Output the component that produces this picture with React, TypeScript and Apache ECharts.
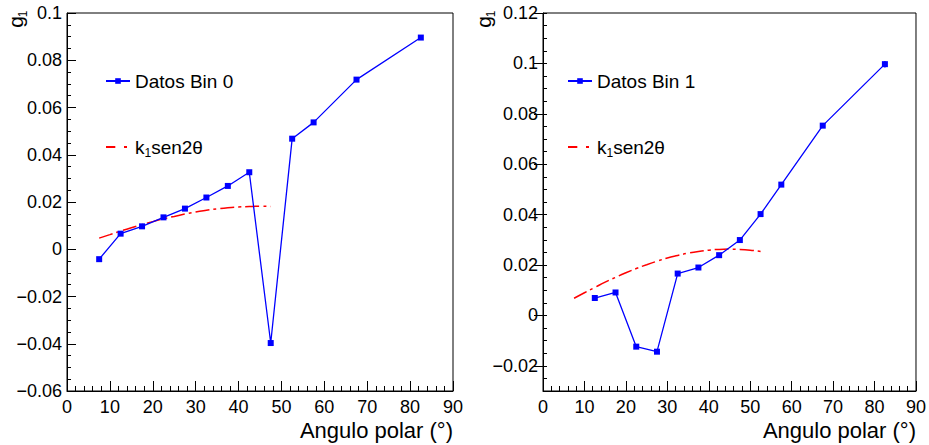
import React, { useEffect, useRef } from "react";
import * as echarts from "echarts";

const angles0 = [7.5, 12.5, 17.5, 22.5, 27.5, 32.5, 37.5, 42.5, 47.5, 52.5, 57.5, 67.5, 82.5];
const g1Bin0 = [-0.0042, 0.0066, 0.0097, 0.0135, 0.0172, 0.0219, 0.0268, 0.0326, -0.0397, 0.0468, 0.0537, 0.0718, 0.0896];

const angles1 = [12.5, 17.5, 22.5, 27.5, 32.5, 37.5, 42.5, 47.5, 52.5, 57.5, 67.5, 82.5];
const g1Bin1 = [0.0069, 0.0091, -0.0124, -0.0144, 0.0166, 0.019, 0.0239, 0.0299, 0.0402, 0.0519, 0.0753, 0.0997];
const err1 = [0.0004, 0.0004, 0.0004, 0.0004, 0.0004, 0.0004, 0.0004, 0.0005, 0.0005, 0.0006, 0.0008, 0.0013];

const fitAngles0 = [7.5, 10, 12.5, 15, 17.5, 20, 22.5, 25, 27.5, 30, 32.5, 35, 37.5, 40, 42.5, 45, 47.5];
const fitVals0 = [0.0047, 0.0062, 0.0077, 0.0091, 0.0104, 0.0117, 0.0129, 0.0139, 0.0149, 0.0158, 0.0165, 0.0171, 0.0176, 0.0179, 0.0181, 0.0182, 0.0181];

const fitAngles1 = [7.5, 10, 12.5, 15, 17.5, 20, 22.5, 25, 27.5, 30, 32.5, 35, 37.5, 40, 42.5, 45, 47.5, 50, 52.5];
const fitVals1 = [0.0068, 0.009, 0.0111, 0.0132, 0.0151, 0.0169, 0.0186, 0.0201, 0.0215, 0.0228, 0.0238, 0.0247, 0.0254, 0.0259, 0.0262, 0.0263, 0.0262, 0.0259, 0.0254];

const yMajors0 = [-0.06, -0.04, -0.02, 0, 0.02, 0.04, 0.06, 0.08, 0.1];
const yMajors1 = [-0.02, 0, 0.02, 0.04, 0.06, 0.08, 0.1, 0.12];

const dataName0 = "Datos Bin 0";
const dataName1 = "Datos Bin 1";
const fitName0 = "fit0";
const fitName1 = "fit1";
const fitLabel = "{a|k}{s|1}{a|sen2θ}";
const xTitle = "Angulo polar (°)";

const FONT = "'Liberation Sans', Arial, Helvetica, sans-serif";
const BLUE = "#0000ff";
const RED = "#ff0000";
const DASH = [14, 4, 3, 4];

const fmtY = (v: number) => {
  if (Math.abs(v) < 1e-9) return "0";
  const s = parseFloat(Math.abs(v).toFixed(4)).toString();
  return (v < 0 ? "\u2212" : "") + s;
};

const zip = (xs: number[], ys: number[]) => xs.map((x, i) => [x, ys[i]]);

const makeLegend = (left: number, dataName: string, fitName: string) => ({
  data: [
    { name: dataName },
    { name: fitName, itemStyle: { color: "rgba(0,0,0,0)", borderColor: "rgba(0,0,0,0)", borderWidth: 0 } },
  ],
  orient: "vertical",
  left,
  top: 71,
  padding: 0,
  itemGap: 46,
  itemWidth: 24,
  itemHeight: 7,
  selectedMode: false,
  formatter: (n: string) => (n.startsWith("fit") ? fitLabel : n),
  textStyle: {
    color: "#000",
    fontSize: 19,
    fontFamily: FONT,
    lineHeight: 20,
    rich: {
      a: { fontSize: 19, fontFamily: FONT, color: "#000" },
      s: { fontSize: 12, fontFamily: FONT, color: "#000", padding: [12, 0, 0, 0] },
    },
  },
});

export default function App() {
  const ref = useRef<HTMLDivElement>(null);
  useEffect(() => {
    if (!ref.current) return;
    const chart = echarts.init(ref.current, undefined, { renderer: "svg" });

    const grids = [
      { left: 67, top: 13, width: 386, height: 378 },
      { left: 543, top: 13, width: 373, height: 378 },
    ];

    const xAxisBase = (gridIndex: number) => ({
      type: "value",
      gridIndex,
      min: 0,
      max: 90,
      interval: 10,
      axisLine: { show: true, onZero: false, lineStyle: { color: "#000", width: 1 } },
      axisTick: { show: true, inside: true, length: 10, lineStyle: { color: "#000" } },
      minorTick: { show: true, splitNumber: 5, length: 5, lineStyle: { color: "#000" } },
      splitLine: { show: false },
      axisLabel: { color: "#000", fontSize: 18, fontFamily: FONT, margin: 7 },
    });

    const labelY = { color: "#000", fontSize: 18, fontFamily: FONT, margin: 5, formatter: fmtY };

    const option: any = {
      animation: false,
      backgroundColor: "#fff",
      grid: grids.map((g) => ({ ...g, show: true, borderColor: "#000", borderWidth: 1, backgroundColor: "transparent" })),
      xAxis: [xAxisBase(0), xAxisBase(1)],
      yAxis: [
        {
          type: "value",
          gridIndex: 0,
          min: -0.06,
          max: 0.1,
          interval: 0.02,
          axisLine: { show: true, onZero: false, lineStyle: { color: "#000" } },
          axisTick: { show: true, inside: true, length: 9, lineStyle: { color: "#000" } },
          minorTick: { show: true, splitNumber: 4, length: 4, lineStyle: { color: "#000" } },
          splitLine: { show: false },
          axisLabel: { ...labelY, customValues: yMajors0 },
        },
        {
          type: "value",
          gridIndex: 1,
          min: -0.03,
          max: 0.12,
          interval: 0.005,
          axisLine: { show: true, onZero: false, lineStyle: { color: "#000" } },
          axisTick: { show: true, inside: true, length: 4, lineStyle: { color: "#000" } },
          splitLine: { show: false },
          axisLabel: { ...labelY, customValues: yMajors1 },
        },
        {
          type: "value",
          gridIndex: 1,
          min: -0.03,
          max: 0.12,
          interval: 0.005,
          axisLine: { show: false },
          axisTick: { show: true, inside: true, length: 9, customValues: yMajors1, lineStyle: { color: "#000" } },
          splitLine: { show: false },
          axisLabel: { show: false },
        },
      ],
      legend: [makeLegend(105, dataName0, fitName0), makeLegend(567, dataName1, fitName1)],
      series: [
        {
          name: fitName0,
          type: "line",
          xAxisIndex: 0,
          yAxisIndex: 0,
          data: zip(fitAngles0, fitVals0),
          smooth: true,
          showSymbol: false,
          lineStyle: { color: RED, width: 1.5, type: DASH },
          itemStyle: { color: RED },
          z: 2,
        },
        {
          name: dataName0,
          type: "line",
          xAxisIndex: 0,
          yAxisIndex: 0,
          data: zip(angles0, g1Bin0),
          symbol: "rect",
          symbolSize: 6,
          lineStyle: { color: BLUE, width: 1.3 },
          itemStyle: { color: BLUE },
          z: 3,
        },
        {
          name: fitName1,
          type: "line",
          xAxisIndex: 1,
          yAxisIndex: 1,
          data: zip(fitAngles1, fitVals1),
          smooth: true,
          showSymbol: false,
          lineStyle: { color: RED, width: 1.5, type: DASH },
          itemStyle: { color: RED },
          z: 2,
        },
        {
          name: dataName1,
          type: "line",
          xAxisIndex: 1,
          yAxisIndex: 1,
          data: zip(angles1, g1Bin1),
          symbol: "rect",
          symbolSize: 6,
          lineStyle: { color: BLUE, width: 1.3 },
          itemStyle: { color: BLUE },
          z: 3,
        },
        {
          name: "err1",
          type: "custom",
          xAxisIndex: 1,
          yAxisIndex: 1,
          data: angles1.map((a, i) => [a, g1Bin1[i], err1[i]]),
          renderItem: (_p: any, api: any) => {
            const x = api.value(0);
            const y = api.value(1);
            const e = api.value(2);
            const p1 = api.coord([x, y - e]);
            const p2 = api.coord([x, y + e]);
            return {
              type: "line",
              shape: { x1: p1[0], y1: p1[1], x2: p2[0], y2: p2[1] },
              style: { stroke: BLUE, lineWidth: 1.3 },
            };
          },
          z: 3,
        },
      ],
      graphic: [
        { type: "text", x: 15, y: 22, rotation: Math.PI / 2, style: { text: "g", fontSize: 21, fontFamily: FONT, fill: "#000", align: "center", verticalAlign: "middle" } },
        { type: "text", x: 23, y: 14, rotation: Math.PI / 2, style: { text: "1", fontSize: 12, fontFamily: FONT, fill: "#000", align: "center", verticalAlign: "middle" } },
        { type: "text", x: 483, y: 22, rotation: Math.PI / 2, style: { text: "g", fontSize: 21, fontFamily: FONT, fill: "#000", align: "center", verticalAlign: "middle" } },
        { type: "text", x: 491, y: 14, rotation: Math.PI / 2, style: { text: "1", fontSize: 12, fontFamily: FONT, fill: "#000", align: "center", verticalAlign: "middle" } },
        { type: "text", x: 453, y: 430, style: { text: xTitle, fontSize: 22, fontFamily: FONT, fill: "#000", align: "right", verticalAlign: "middle" } },
        { type: "text", x: 916, y: 430, style: { text: xTitle, fontSize: 22, fontFamily: FONT, fill: "#000", align: "right", verticalAlign: "middle" } },
      ],
    };

    chart.setOption(option);
    return () => chart.dispose();
  }, []);

  return (
    <div
      ref={ref}
      style={{ position: "fixed", left: 0, top: 0, width: 929, height: 445, background: "#fff" }}
    />
  );
}
